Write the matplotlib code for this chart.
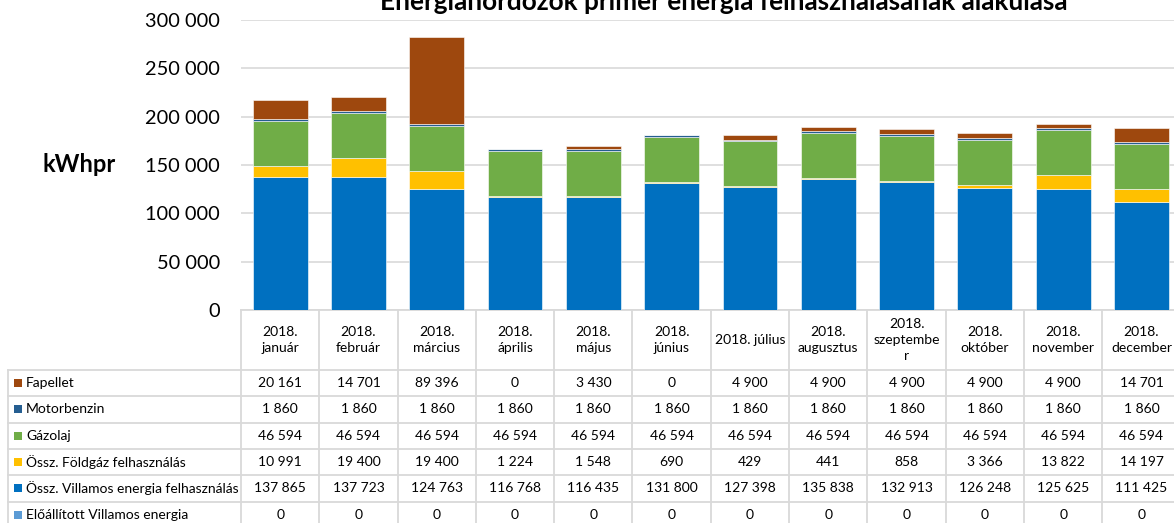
import matplotlib
matplotlib.use("Agg")
import matplotlib.pyplot as plt
from matplotlib.transforms import blended_transform_factory
from matplotlib.patches import Rectangle
from matplotlib.ticker import FuncFormatter

plt.rcParams['font.family'] = ['Lato', 'DejaVu Sans']

# data
months = ["2018.\njanuár", "2018.\nfebruár", "2018.\nmárcius", "2018.\náprilis",
          "2018.\nmájus", "2018.\njúnius", "2018. július", "2018.\naugusztus",
          "2018.\nszeptembe\nr", "2018.\noktóber", "2018.\nnovember", "2018.\ndecember"]
fapellet = [20161, 14701, 89396, 0, 3430, 0, 4900, 4900, 4900, 4900, 4900, 14701]
motorbenzin = [1860, 1860, 1860, 1860, 1860, 1860, 1860, 1860, 1860, 1860, 1860, 1860]
gazolaj = [46594, 46594, 46594, 46594, 46594, 46594, 46594, 46594, 46594, 46594, 46594, 46594]
foldgaz = [10991, 19400, 19400, 1224, 1548, 690, 429, 441, 858, 3366, 13822, 14197]
villamos = [137865, 137723, 124763, 116768, 116435, 131800, 127398, 135838, 132913,
            126248, 125625, 111425]
eloallitott = [0, 0, 0, 0, 0, 0, 0, 0, 0, 0, 0, 0]

# stacking order bottom -> top
series = [
    ("Előállított Villamos energia", eloallitott, "#5B9BD5"),
    ("Össz. Villamos energia felhasználás", villamos, "#0070C0"),
    ("Össz. Földgáz felhasználás", foldgaz, "#FFC000"),
    ("Gázolaj", gazolaj, "#70AD47"),
    ("Motorbenzin", motorbenzin, "#255E91"),
    ("Fapellet", fapellet, "#9E480E"),
]

W, H = 1174, 523
fig = plt.figure(figsize=(W / 100, H / 100), dpi=100)
col_w = 78.3
ax = fig.add_axes([241 / W, 1 - 310 / H, 12 * col_w / W, 290 / H])

x = list(range(len(months)))
bottom = [0] * len(months)
for name, vals, color in series:
    ax.bar(x, vals, 0.70, bottom=bottom, color=color, edgecolor="white", linewidth=0.4, zorder=3)
    bottom = [b + v for b, v in zip(bottom, vals)]

def fmt(v):
    return f"{int(v):,}".replace(",", " ")

ax.set_xlim(-0.5, len(months) - 0.5)
ax.set_ylim(0, 300000)
ax.set_yticks(range(0, 300001, 50000))
ax.yaxis.set_major_formatter(FuncFormatter(lambda v, p: fmt(v)))
ax.tick_params(axis="y", length=0, pad=15, labelsize=14.4, labelcolor="#000000")
ax.set_xticks([])
ax.grid(axis="y", color="#D9D9D9", linewidth=1.2, zorder=0)
for s in ax.spines.values():
    s.set_visible(False)

fig.text(724 / W, 1 - 10 / H, "Energiahordozók primer energia felhasználásának alakulása",
         ha="center", va="baseline", fontsize=18.8, fontweight="bold")
fig.text(79 / W, 1 - 165 / H, "kWhpr", ha="center", va="center", fontsize=17, fontweight="bold")

# data table under the plot
tr = blended_transform_factory(ax.transData, fig.transFigure)
line_c = "#D9D9D9"
lw = 1.3
y_top = 1 - 310 / H
y_head = 1 - 370 / H
row_h = 26.3 / H
left_fig = 8 / W
x_left = ax.transData.inverted().transform(fig.transFigure.transform((left_fig, 0)))[0]
x_right = len(months) - 0.5

ax.plot([-0.5, x_right], [y_top, y_top], transform=tr, color=line_c, lw=lw, clip_on=False)
for i in range(len(months) + 1):
    ax.plot([i - 0.5, i - 0.5], [0, y_top], transform=tr, color=line_c, lw=lw, clip_on=False)
ax.plot([x_left, x_left], [0, y_head], transform=tr, color=line_c, lw=lw, clip_on=False)
for r in range(len(series) + 1):
    yy = y_head - r * row_h
    ax.plot([x_left, x_right], [yy, yy], transform=tr, color=line_c, lw=lw, clip_on=False)

for i, m in enumerate(months):
    ax.text(i, (y_top + y_head) / 2, m, transform=tr, ha="center", va="center",
            fontsize=10, linespacing=1.35, clip_on=False)

for r, (name, vals, color) in enumerate(reversed(series)):
    yc = y_head - (r + 0.5) * row_h
    fig.patches.append(Rectangle((14 / W, yc - 4 / H), 8 / W, 8 / H, transform=fig.transFigure,
                                 facecolor=color, edgecolor="none"))
    fig.text(26 / W, yc, name, ha="left", va="center", fontsize=10)
    for i, v in enumerate(vals):
        ax.text(i, yc, fmt(v), transform=tr, ha="center", va="center", fontsize=10, clip_on=False)

fig.savefig("out.png", dpi=100, facecolor="white")
